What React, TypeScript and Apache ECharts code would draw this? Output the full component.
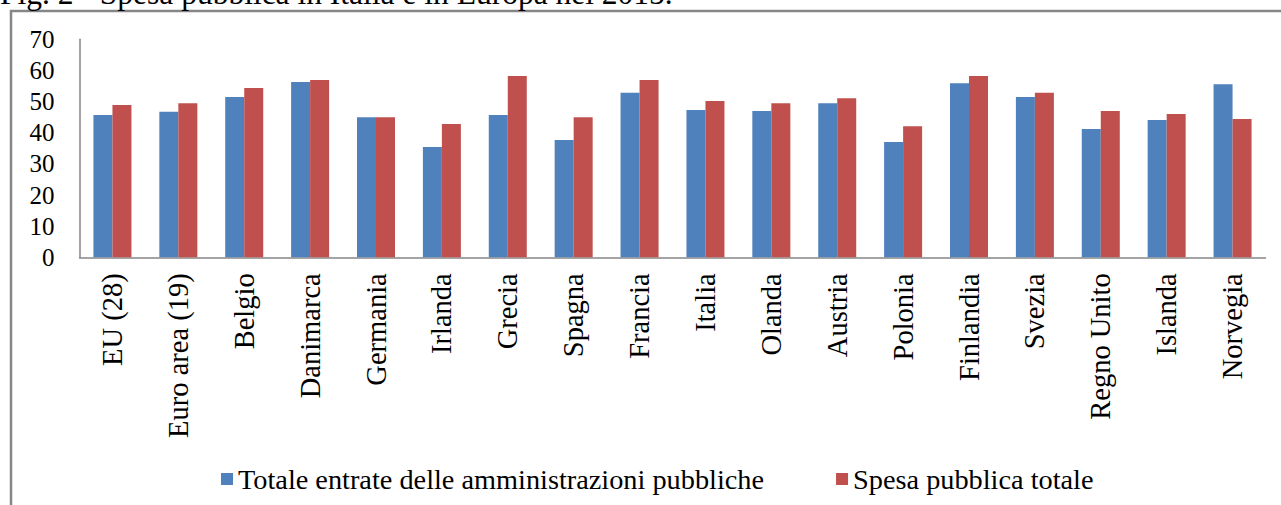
import React, { useEffect, useRef } from "react";
import * as echarts from "echarts";

const categories = [
  "EU (28)", "Euro area (19)", "Belgio", "Danimarca", "Germania", "Irlanda",
  "Grecia", "Spagna", "Francia", "Italia", "Olanda", "Austria", "Polonia",
  "Finlandia", "Svezia", "Regno Unito", "Islanda", "Norvegia",
];
const entrate = [45.7, 46.7, 51.5, 56.3, 45.0, 35.4, 45.7, 37.7, 52.8, 47.3, 47.0, 49.5, 37.0, 55.9, 51.5, 41.2, 44.1, 55.6];
const spesa = [48.9, 49.5, 54.4, 56.9, 45.0, 42.8, 58.2, 45.0, 56.9, 50.2, 49.5, 51.1, 42.1, 58.2, 52.8, 47.0, 46.0, 44.4];
const seriesNames = ["Totale entrate delle amministrazioni pubbliche", "Spesa pubblica totale"];
const titleText = "Fig. 2 - Spesa pubblica in Italia e in Europa nel 2015.";

const FONT = "Liberation Serif, serif";

export default function App() {
  const ref = useRef<HTMLDivElement>(null);
  useEffect(() => {
    if (!ref.current) return;
    const chart = echarts.init(ref.current, null, { renderer: "svg" });
    chart.setOption({
      animation: false,
      backgroundColor: "#ffffff",
      textStyle: { fontFamily: FONT, color: "#000" },
      grid: { left: 79.5, right: 15.5, top: 39.3, bottom: 247.7, containLabel: false },
      graphic: [
        {
          type: "rect",
          shape: { x: 11, y: 11, width: 1400, height: 600 },
          style: { fill: "none", stroke: "#868686", lineWidth: 2.5 },
          silent: true,
        },
        {
          type: "text",
          x: 0,
          y: -22.5,
          style: {
            text: titleText,
            fontFamily: FONT,
            fontSize: 31.5,
            fill: "#000",
            verticalAlign: "top",
            align: "left",
          },
          silent: true,
        },
      ],
      legend: {
        left: 216,
        top: 460,
        itemWidth: 12,
        itemHeight: 12,
        itemGap: 72,
        icon: "rect",
        textStyle: { fontFamily: FONT, fontSize: 28.3, color: "#000" },
        data: seriesNames,
      },
      xAxis: {
        type: "category",
        data: categories,
        axisLine: { lineStyle: { color: "#868686", width: 1.5 } },
        axisTick: { show: false },
        axisLabel: {
          rotate: 90,
          interval: 0,
          margin: 16,
          fontFamily: FONT,
          fontSize: 28.5,
          color: "#000",
        },
      },
      yAxis: {
        type: "value",
        min: 0,
        max: 70,
        interval: 10,
        splitLine: { show: false },
        axisLine: { show: true, lineStyle: { color: "#868686", width: 1.5 } },
        axisTick: { show: false },
        axisLabel: { margin: 25, fontFamily: FONT, fontSize: 25, color: "#000" },
      },
      series: [
        {
          name: seriesNames[0],
          type: "bar",
          data: entrate,
          barWidth: 19,
          barGap: "0%",
          itemStyle: { color: "#4F81BD" },
        },
        {
          name: seriesNames[1],
          type: "bar",
          data: spesa,
          barWidth: 19,
          barGap: "0%",
          itemStyle: { color: "#C0504D" },
        },
      ],
    });
    return () => chart.dispose();
  }, []);
  return (
    <div
      ref={ref}
      style={{ position: "absolute", left: 0, top: 0, width: 1281, height: 505 }}
    />
  );
}
